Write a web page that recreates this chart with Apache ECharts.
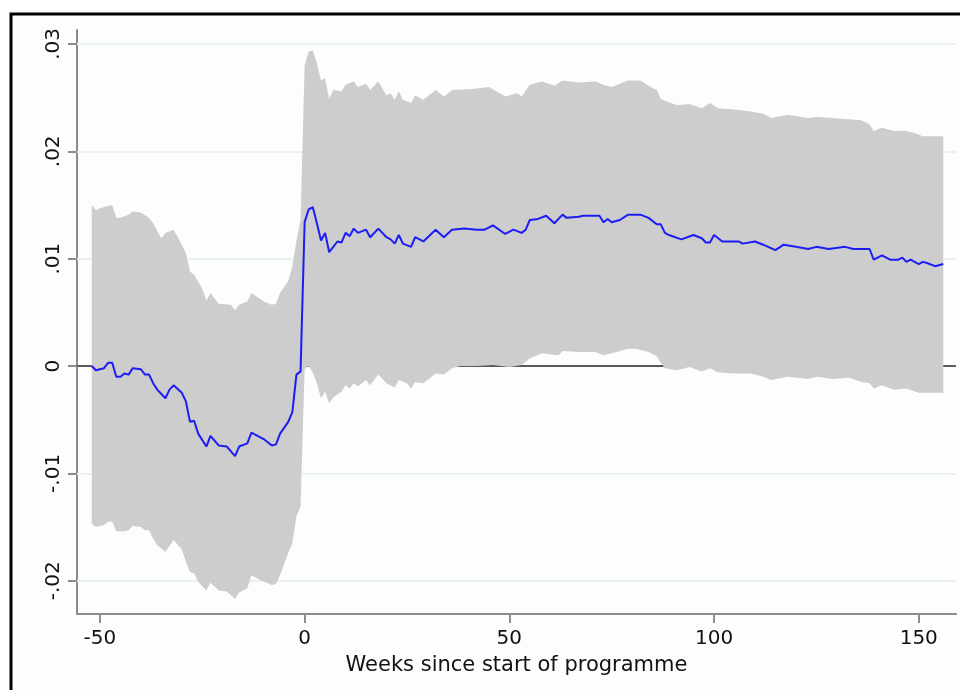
<!DOCTYPE html>
<html>
<head>
<meta charset="utf-8">
<script src="https://cdn.jsdelivr.net/npm/echarts@6/dist/echarts.min.js"></script>
<style>html,body{margin:0;padding:0;background:#fff;}#c{width:960px;height:690px;}</style>
</head>
<body>
<div id="c"></div>
<script>
// ---- data ----
const meanWeeks = [-52,-51,-49,-48,-47,-46,-45,-44,-43,-42,-40,-39,-38,-37,-36,-34,-33,-32,-30,-29,-28,-27,-26,-24,-23,-21,-19,-17,-16,-14,-13,-10,-8,-7,-6,-4,-3,-2,-1,
  0,1,2,3,4,5,6,8,9,10,11,12,13,15,16,18,20,21,22,23,24,26,27,29,32,34,36,39,42,44,46,49,51,53,54,55,57,59,61,63,64,67,68,72,73,74,75,77,79,82,84,86,87,88,89,92,95,97,98,99,100,102,106,107,110,112,115,117,120,123,125,128,132,134,138,139,141,143,145,146,147,148,150,151,152,154,156];
const meanVals = [0.0000,-0.0004,-0.0002,0.0003,0.0003,-0.0010,-0.0010,-0.0007,-0.0008,-0.0002,-0.0003,-0.0008,-0.0008,-0.0016,-0.0022,-0.0030,-0.0022,-0.0018,-0.0025,-0.0033,-0.0052,-0.0051,-0.0063,-0.0075,-0.0065,-0.0074,-0.0075,-0.0084,-0.0075,-0.0072,-0.0062,-0.0068,-0.0074,-0.0073,-0.0063,-0.0052,-0.0043,-0.0008,-0.0005,
  0.0134,0.0146,0.0148,0.0133,0.0117,0.0124,0.0106,0.0116,0.0115,0.0124,0.0121,0.0128,0.0124,0.0127,0.0120,0.0128,0.0120,0.0118,0.0114,0.0122,0.0114,0.0111,0.0120,0.0116,0.0127,0.0120,0.0127,0.0128,0.0127,0.0127,0.0131,0.0123,0.0127,0.0124,0.0127,0.0136,0.0137,0.0140,0.0133,0.0141,0.0138,0.0139,0.0140,0.0140,0.0134,0.0137,0.0134,0.0136,0.0141,0.0141,0.0138,0.0132,0.0132,0.0124,0.0122,0.0118,0.0122,0.0119,0.0115,0.0115,0.0122,0.0116,0.0116,0.0114,0.0116,0.0113,0.0108,0.0113,0.0111,0.0109,0.0111,0.0109,0.0111,0.0109,0.0109,0.0099,0.0103,0.0099,0.0099,0.0101,0.0097,0.0099,0.0095,0.0097,0.0096,0.0093,0.0095];

const upperWeeks = [-52,-51,-50,-48,-47,-46,-45,-43,-42,-40,-38,-37,-35,-34,-32,-30,-29,-28,-27,-25,-24,-23,-21,-18,-17,-16,-14,-13,-10,-8,-7,-6,-4,-3,-2,-1,
  0,1,2,3,4,5,6,7,9,10,12,13,15,16,18,20,21,22,23,24,26,27,29,32,34,36,41,45,49,52,53,55,58,61,63,67,71,73,75,77,79,82,84,86,87,88,91,94,97,99,101,105,109,112,114,118,123,125,129,132,136,138,139,141,144,147,149,151,156];
const upperVals = [0.0150,0.0145,0.0147,0.0149,0.0150,0.0138,0.0138,0.0141,0.0144,0.0143,0.0138,0.0133,0.0119,0.0124,0.0127,0.0113,0.0105,0.0088,0.0085,0.0072,0.0061,0.0068,0.0058,0.0057,0.0052,0.0057,0.0060,0.0068,0.0060,0.0057,0.0058,0.0068,0.0079,0.0093,0.0117,0.0136,
  0.0280,0.0293,0.0294,0.0282,0.0266,0.0268,0.0249,0.0257,0.0256,0.0262,0.0265,0.0260,0.0263,0.0257,0.0265,0.0252,0.0254,0.0248,0.0256,0.0248,0.0245,0.0252,0.0248,0.0257,0.0251,0.0257,0.0258,0.0260,0.0251,0.0254,0.0251,0.0262,0.0265,0.0261,0.0266,0.0264,0.0265,0.0262,0.0260,0.0263,0.0266,0.0266,0.0261,0.0257,0.0249,0.0247,0.0243,0.0244,0.0240,0.0245,0.0240,0.0239,0.0237,0.0235,0.0231,0.0234,0.0231,0.0232,0.0231,0.0230,0.0229,0.0225,0.0219,0.0222,0.0219,0.0219,0.0217,0.0214,0.0214];

const lowerWeeks = [-52,-51,-49,-48,-47,-46,-44,-43,-42,-40,-39,-38,-37,-36,-34,-32,-30,-29,-28,-27,-26,-24,-23,-21,-19,-17,-16,-14,-13,-11,-8,-7,-6,-4,-3,-2,-1,
  0,1,2,3,4,5,6,7,9,10,11,12,13,15,16,18,20,22,23,25,26,27,29,32,34,36,38,42,46,50,53,55,58,62,63,67,71,73,75,79,81,84,86,87,88,91,94,97,99,101,105,109,112,114,118,123,125,129,133,136,138,139,141,144,147,150,156];
const lowerVals = [-0.0147,-0.0150,-0.0148,-0.0145,-0.0145,-0.0154,-0.0154,-0.0153,-0.0149,-0.0150,-0.0153,-0.0153,-0.0161,-0.0167,-0.0173,-0.0162,-0.0171,-0.0182,-0.0192,-0.0193,-0.0201,-0.0209,-0.0202,-0.0209,-0.0210,-0.0217,-0.0211,-0.0207,-0.0195,-0.0199,-0.0204,-0.0203,-0.0195,-0.0174,-0.0165,-0.0140,-0.0131,
  -0.0003,0.0000,-0.0006,-0.0016,-0.0030,-0.0024,-0.0035,-0.0029,-0.0024,-0.0018,-0.0021,-0.0016,-0.0019,-0.0013,-0.0018,-0.0008,-0.0016,-0.0020,-0.0013,-0.0016,-0.0021,-0.0015,-0.0016,-0.0007,-0.0008,-0.0002,0.0000,0.0000,0.0001,-0.0001,0.0001,0.0007,0.0012,0.0010,0.0014,0.0013,0.0013,0.0010,0.0012,0.0016,0.0016,0.0013,0.0009,0.0003,-0.0002,-0.0004,-0.0001,-0.0005,-0.0002,-0.0006,-0.0007,-0.0007,-0.0010,-0.0013,-0.0010,-0.0012,-0.0010,-0.0012,-0.0011,-0.0015,-0.0016,-0.0021,-0.0018,-0.0022,-0.0021,-0.0025,-0.0025];

const xTickValues = [-50, 0, 50, 100, 150];
const xTickLabels = ['-50', '0', '50', '100', '150'];
const yTickValues = [-0.02, -0.01, 0, 0.01, 0.02, 0.03];
const yTickLabels = ['-.02', '-.01', '0', '.01', '.02', '.03'];
const yGridValues = [-0.02, -0.01, 0.01, 0.02, 0.03];
const xTitle = 'Weeks since start of programme';

// ---- chart ----
const chart = echarts.init(document.getElementById('c'), null, {renderer: 'canvas', devicePixelRatio: 1});
const FONT = 'DejaVu Sans';
const meanData = meanWeeks.map((w, i) => [w, meanVals[i]]);
const upperData = upperWeeks.map((w, i) => [w, upperVals[i]]);
const lowerData = lowerWeeks.map((w, i) => [w, lowerVals[i]]);

function labelFor(values, labels) {
  return v => {
    for (let i = 0; i < values.length; i++) if (Math.abs(values[i] - v) < 1e-9) return labels[i];
    return '';
  };
}

const option = {
  animation: false,
  backgroundColor: '#ffffff',
  graphic: [{
    type: 'rect', z: -10, silent: true,
    shape: {x: 11, y: 14, width: 1200, height: 1000},
    style: {fill: '#fdfdfd', stroke: '#000000', lineWidth: 3}
  }],
  grid: {left: 77, right: 4, top: 30, bottom: 76, containLabel: false},
  xAxis: {
    type: 'value', min: -55.6, max: 159.1,
    axisLine: {show: true, onZero: false, lineStyle: {color: '#8c8c8c', width: 2}},
    axisTick: {show: true, length: 9, customValues: xTickValues, lineStyle: {color: '#8c8c8c', width: 2}},
    axisLabel: {customValues: xTickValues, formatter: labelFor(xTickValues, xTickLabels), color: '#111', fontFamily: FONT, fontSize: 20, margin: 15},
    splitLine: {show: false},
    name: xTitle, nameLocation: 'middle', nameGap: 41,
    nameTextStyle: {color: '#111', fontFamily: FONT, fontSize: 21}
  },
  yAxis: {
    type: 'value', min: -0.0231, max: 0.0313,
    axisLine: {show: true, onZero: false, lineStyle: {color: '#8c8c8c', width: 2}},
    axisTick: {show: true, length: 9, customValues: yTickValues, lineStyle: {color: '#8c8c8c', width: 2}},
    axisLabel: {customValues: yTickValues, formatter: labelFor(yTickValues, yTickLabels), rotate: 90, color: '#111', fontFamily: FONT, fontSize: 20, margin: 13},
    splitLine: {show: false}
  },
  series: [
    {
      type: 'line', z: 1, data: [], silent: true,
      markLine: {
        z: 1, silent: true, symbol: 'none', label: {show: false}, animation: false,
        data: yGridValues.map(v => ({yAxis: v, lineStyle: {color: '#e9f2f2', width: 2, type: 'solid'}}))
          .concat([{yAxis: 0, lineStyle: {color: '#5a5a5a', width: 2, type: 'solid'}}])
      }
    },
    {
      type: 'custom', z: 2, silent: true, clip: false,
      data: [[upperWeeks[0], upperVals[0]]],
      renderItem: function (params, api) {
        const pts = [];
        upperData.forEach(p => pts.push(api.coord(p)));
        for (let i = lowerData.length - 1; i >= 0; i--) pts.push(api.coord(lowerData[i]));
        return {type: 'polygon', shape: {points: pts}, style: {fill: '#cdcdcd', stroke: 'none'}};
      }
    },
    {
      type: 'line', z: 3, data: meanData, showSymbol: false, symbol: 'none',
      lineStyle: {color: '#1c1cf5', width: 2}
    }
  ]
};
chart.setOption(option);
</script>
</body>
</html>
